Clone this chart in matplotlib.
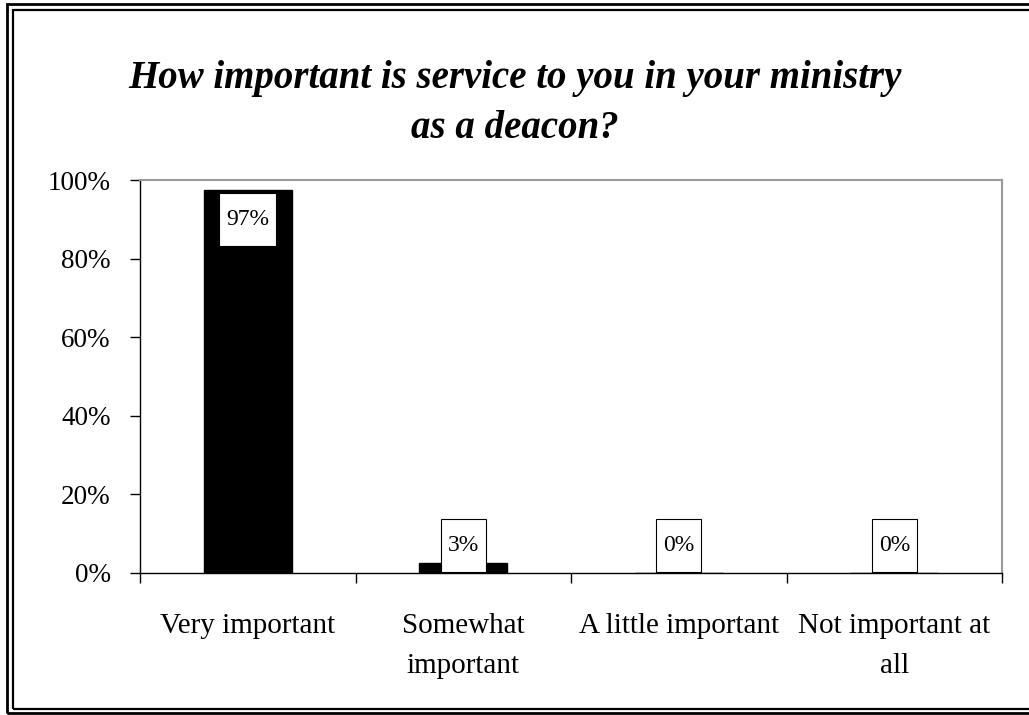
import matplotlib
matplotlib.use("Agg")
import matplotlib.pyplot as plt
from matplotlib.patches import Rectangle
from matplotlib.path import Path
from matplotlib.ticker import PercentFormatter

# survey answers, percent of respondents
categories = ["Very important", "Somewhat\nimportant", "A little important", "Not important at\nall"]
values = [97.4, 2.6, 0.0, 0.0]
labels = ["97%", "3%", "0%", "0%"]
yticks = [0, 20, 40, 60, 80, 100]

plt.rcParams["font.family"] = ["Liberation Serif", "DejaVu Serif"]


def label_box(x0, y0, width, height, mutation_size):
    # wider vertical padding than horizontal, like the Excel label boxes
    px = 0.3 * mutation_size
    py = 0.68 * mutation_size
    x0, x1 = x0 - px, x0 + width + px
    y0, y1 = y0 - py, y0 + height + py
    return Path([(x0, y0), (x1, y0), (x1, y1), (x0, y1), (x0, y0)], closed=True)


fig = plt.figure(figsize=(10.29, 7.15), dpi=100)
ax = fig.add_axes([140 / 1029, 1 - 573 / 715, 862 / 1029, 393 / 715])

x = list(range(len(categories)))
ax.bar(x, values, width=0.41, color="black", edgecolor="black", zorder=2)

for xi, v, lab in zip(x, values, labels):
    if v > 10:
        # inside end
        ax.annotate(lab, (xi, v), xytext=(0, -21), textcoords="offset points",
                    ha="center", va="center", fontsize=17, zorder=3,
                    bbox=dict(boxstyle=label_box, fc="white", ec="black", lw=0.8))
    else:
        ax.annotate(lab, (xi, 0), xytext=(0, 19.5), textcoords="offset points",
                    ha="center", va="center", fontsize=17, zorder=3,
                    bbox=dict(boxstyle=label_box, fc="white", ec="black", lw=0.8))

ax.set_xlim(-0.5, len(categories) - 0.5)
ax.set_ylim(0, 100)
ax.set_yticks(yticks)
ax.yaxis.set_major_formatter(PercentFormatter(decimals=0))
ax.tick_params(axis="y", direction="out", length=7.2, width=1, pad=14, labelsize=19.5)

ax.set_xticks(x)
ax.set_xticklabels(categories, fontsize=21, linespacing=1.68)
ax.tick_params(axis="x", which="major", length=0, pad=29)
ax.set_xticks([i - 0.5 for i in range(len(categories) + 1)], minor=True)
ax.tick_params(axis="x", which="minor", direction="out", length=7.2, width=1)

for side in ["left", "bottom"]:
    ax.spines[side].set_color("black")
    ax.spines[side].set_linewidth(1.0)
for side in ["top", "right"]:
    ax.spines[side].set_color("#9a9a9a")
    ax.spines[side].set_linewidth(1.5)

fig.text(0.5, 1 - 88 / 715, "How important is service to you in your ministry",
         ha="center", va="baseline", fontsize=28, fontweight="bold", fontstyle="italic")
fig.text(0.5, 1 - 138 / 715, "as a deacon?",
         ha="center", va="baseline", fontsize=28, fontweight="bold", fontstyle="italic")

# double border around the chart (runs off the right edge as in the original)
W, H = 1029, 715
fig.patches.append(Rectangle((7 / W, 2 / H), 1.1, 709 / H, transform=fig.transFigure,
                             fill=False, ec="black", lw=2.0))
fig.patches.append(Rectangle((13 / W, 6 / H), 1.1, 699 / H, transform=fig.transFigure,
                             fill=False, ec="black", lw=1.6))

fig.savefig("out.png", dpi=100)
